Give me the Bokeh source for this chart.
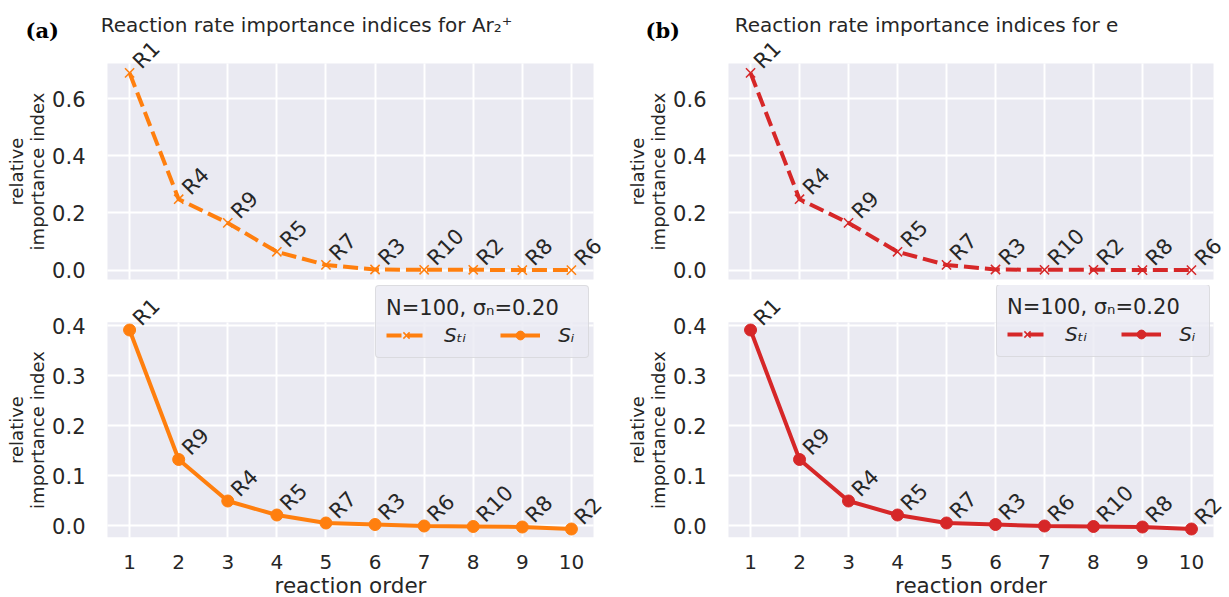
import numpy as np
from bokeh.plotting import figure
from bokeh.layouts import gridplot
from bokeh.models import (FixedTicker, NumeralTickFormatter, Label, Legend, LegendItem,
                          LinearAxis, Grid, Range1d)
from bokeh.core.properties import value
from bokeh.embed import file_html
from bokeh.resources import INLINE

# ---------------- data ----------------
order = [1, 2, 3, 4, 5, 6, 7, 8, 9, 10]

ar2_total_labels = ["R1", "R4", "R9", "R5", "R7", "R3", "R10", "R2", "R8", "R6"]
ar2_total = [0.690, 0.248, 0.165, 0.064, 0.018, 0.002, 0.001, 0.001, 0.000, 0.000]
ar2_first_labels = ["R1", "R9", "R4", "R5", "R7", "R3", "R6", "R10", "R8", "R2"]
ar2_first = [0.391, 0.132, 0.049, 0.021, 0.005, 0.002, -0.001, -0.002, -0.003, -0.007]

e_total_labels = ["R1", "R4", "R9", "R5", "R7", "R3", "R10", "R2", "R8", "R6"]
e_total = [0.690, 0.248, 0.165, 0.064, 0.018, 0.002, 0.001, 0.001, 0.000, 0.000]
e_first_labels = ["R1", "R9", "R4", "R5", "R7", "R3", "R6", "R10", "R8", "R2"]
e_first = [0.391, 0.132, 0.049, 0.021, 0.005, 0.002, -0.001, -0.002, -0.003, -0.007]

top_yticks = [0.0, 0.2, 0.4, 0.6]
bottom_yticks = [0.0, 0.1, 0.2, 0.3, 0.4]

titles = ["Reaction rate importance indices for Ar\u2082\u207a",
          "Reaction rate importance indices for e"]
panel_tags = ["(a)", "(b)"]
legend_title = "N=100, \u03c3\u2099=0.20"
label_total = "S\u209c\u1d62"
label_first = "S\u1d62"
ylabel = "relative\nimportance index"
xlabel = "reaction order"

# axis limits
XLIM = (0.55, 10.45)
TOP_YLIM = (-0.033, 0.723)
BOT_YLIM = (-0.0234, 0.4066)

# ---------------- style / layout ----------------
ORANGE = "#ff7f0e"
RED = "#d62728"
BG = "#eaeaf2"
TXT = "#262626"
FONT = "DejaVu Sans"

COL_W = [628, 601]
ROW_H = [285, 312]
# plot-area boxes (left, top, right, bottom) in each figure's own pixels
BOX = {
    (0, 0): (107, 63, 593, 279),
    (0, 1): (100, 63, 585, 279),
    (1, 0): (107, 36.7, 593, 251.7),
    (1, 1): (100, 36.7, 585, 251.7),
}
HAS_CROSS = "cross_bounds" in Grid.properties()
HAS_RADIUS = "border_radius" in Legend.properties()


def full_ranges(w, h, box, xlim, ylim):
    l, t, r, b = box
    sx = (r - l) / (xlim[1] - xlim[0])
    sy = (b - t) / (ylim[1] - ylim[0])
    x0 = xlim[0] - l / sx
    x1 = xlim[1] + (w - r) / sx
    y1 = ylim[1] + t / sy
    y0 = ylim[0] - (h - b) / sy
    return Range1d(x0, x1), Range1d(y0, y1)


def style_axis(ax, size):
    ax.axis_line_color = None
    ax.major_tick_line_color = None
    ax.minor_tick_line_color = None
    ax.major_label_text_font = FONT
    ax.major_label_text_font_size = size
    ax.major_label_text_color = TXT
    ax.axis_label_text_font = FONT
    ax.axis_label_text_font_style = "normal"
    ax.axis_label_text_color = TXT


def base_fig(row, col, ylim, yticks):
    w, h = COL_W[col], ROW_H[row]
    xr, yr = full_ranges(w, h, BOX[(row, col)], XLIM, ylim)
    p = figure(width=w, height=h, x_range=xr, y_range=yr, x_axis_type=None,
               y_axis_type=None, min_border=0, output_backend="svg",
               toolbar_location=None)
    p.background_fill_color = "white"
    p.border_fill_color = "white"
    p.outline_line_color = None
    # plot area backdrop
    p.quad(left=[XLIM[0]], right=[XLIM[1]], bottom=[ylim[0]], top=[ylim[1]],
           fill_color=BG, line_color=None, level="image")
    # grids
    if HAS_CROSS:
        p.add_layout(Grid(dimension=0, ticker=FixedTicker(ticks=order), cross_bounds=ylim,
                          grid_line_color="white", grid_line_width=2))
        p.add_layout(Grid(dimension=1, ticker=FixedTicker(ticks=yticks), cross_bounds=XLIM,
                          grid_line_color="white", grid_line_width=2))
    else:
        p.segment(x0=order, x1=order, y0=[ylim[0]] * len(order), y1=[ylim[1]] * len(order),
                  line_color="white", line_width=2, level="underlay")
        p.segment(x0=[XLIM[0]] * len(yticks), x1=[XLIM[1]] * len(yticks), y0=yticks,
                  y1=yticks, line_color="white", line_width=2, level="underlay")
    # y axis
    ya = LinearAxis(fixed_location=XLIM[0], bounds=ylim, ticker=FixedTicker(ticks=yticks),
                    formatter=NumeralTickFormatter(format="0.0"), axis_label=ylabel)
    style_axis(ya, "21px")
    ya.axis_label_text_font_size = "18px"
    ya.axis_label_text_line_height = 1.0
    ya.major_label_standoff = 16
    ya.axis_label_standoff = 1
    p.add_layout(ya, "left")
    return p


def add_point_labels(p, ys, labels):
    p.text(x=order, y=ys, text=labels, angle=45, angle_units="deg", x_offset=7,
           y_offset=-8, text_font=value(FONT), text_font_size="21px", text_color=TXT,
           text_align="left", text_baseline="alphabetic")


def make_top(col, color, ys, labels):
    p = base_fig(0, col, TOP_YLIM, top_yticks)
    p.line(order, ys, line_color=color, line_width=4, line_dash="15 6")
    p.scatter(order, ys, marker="x", size=13, line_color=color, line_width=1.5)
    add_point_labels(p, ys, labels)
    h = ROW_H[0]
    title_x = [306, 298][col]
    p.add_layout(Label(x=title_x, y=h - 24, x_units="screen", y_units="screen",
                       text=titles[col], text_font=FONT, text_font_size="20px",
                       text_color=TXT, text_align="center", text_baseline="alphabetic"))
    tag_x = [25, 17][col]
    p.add_layout(Label(x=tag_x, y=h - 30, x_units="screen", y_units="screen",
                       text=panel_tags[col], text_font="DejaVu Serif",
                       text_font_style="bold", text_font_size="21px", text_color="black",
                       text_align="left", text_baseline="alphabetic"))
    return p


def make_bottom(col, color, ys, labels):
    p = base_fig(1, col, BOT_YLIM, bottom_yticks)
    xa = LinearAxis(fixed_location=BOT_YLIM[0], bounds=XLIM, ticker=FixedTicker(ticks=order),
                    axis_label=xlabel)
    style_axis(xa, "20px")
    xa.axis_label_text_font_size = "21.5px"
    xa.major_label_standoff = 12
    xa.axis_label_standoff = 0
    p.add_layout(xa, "below")
    l = p.line(order, ys, line_color=color, line_width=4)
    c = p.scatter(order, ys, marker="circle", size=12, fill_color=color, line_color=color)
    add_point_labels(p, ys, labels)
    # legend-only renderers for the total index (no visible data)
    dl = p.line([np.nan], [np.nan], line_color=color, line_width=4, line_dash="15 6")
    dx = p.scatter([np.nan], [np.nan], marker="x", size=13, line_color=color,
                   line_width=1.5)
    h = ROW_H[1]
    leg_box = [(375, 358 - 285), (368, 357 - 285)][col]
    leg = Legend(items=[LegendItem(label=label_total, renderers=[dl, dx]),
                        LegendItem(label=label_first, renderers=[l, c])],
                 orientation="horizontal", title=legend_title,
                 location=(leg_box[0], h - leg_box[1]))
    leg.title_text_font = FONT
    leg.title_text_font_size = "21px"
    leg.title_text_font_style = "normal"
    leg.title_text_color = TXT
    leg.title_standoff = 3
    leg.label_text_font = FONT
    leg.label_text_font_size = "20px"
    leg.label_text_font_style = "italic"
    leg.label_text_color = TXT
    leg.glyph_width = 40
    leg.glyph_height = 22
    leg.label_standoff = 18
    leg.spacing = 34
    leg.padding = 10
    leg.margin = 0
    leg.border_line_color = "#cccccc"
    leg.background_fill_color = BG
    leg.background_fill_alpha = 0.8
    if HAS_RADIUS:
        leg.border_radius = 4
    p.add_layout(leg)
    return p


p1 = make_top(0, ORANGE, ar2_total, ar2_total_labels)
p2 = make_top(1, RED, e_total, e_total_labels)
p3 = make_bottom(0, ORANGE, ar2_first, ar2_first_labels)
p4 = make_bottom(1, RED, e_first, e_first_labels)

p = gridplot([[p1, p2], [p3, p4]], toolbar_location=None)

open("out.html", "w").write(file_html(p, INLINE))
